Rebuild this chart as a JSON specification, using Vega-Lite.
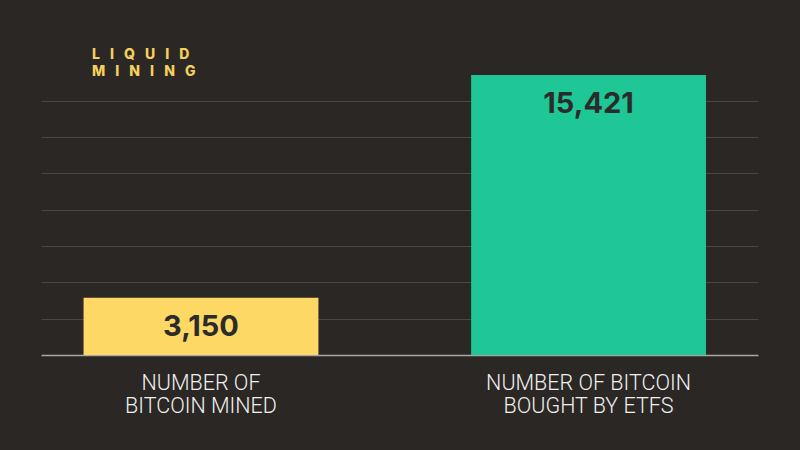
{
  "$schema": "https://vega.github.io/schema/vega-lite/v6.json",
  "width": 717,
  "height": 280,
  "autosize": {"type": "none"},
  "padding": {"left": 41, "top": 75, "right": 42, "bottom": 95},
  "background": "#2a2724",
  "title": {
    "text": ["L\u2002 I\u2002 Q\u2002 U\u2002 I\u2002 D", "M\u2002 I\u2002 N\u2002 I\u2002 N\u2002 G"],
    "anchor": "start",
    "frame": "group",
    "color": "#F6CF5C",
    "font": "Inter",
    "fontSize": 14,
    "fontWeight": 800,
    "lineHeight": 17,
    "dx": 51,
    "offset": 0,
    "dy": 4
  },
  "data": {
    "values": [
      {"label": "NUMBER OF|BITCOIN MINED", "value": 3150},
      {"label": "NUMBER OF BITCOIN|BOUGHT BY ETFS", "value": 15421}
    ]
  },
  "encoding": {
    "x": {
      "field": "label",
      "type": "nominal",
      "sort": null,
      "scale": {"paddingInner": 0.394, "paddingOuter": 0.122, "align": 0.45},
      "axis": {
        "title": null,
        "labelAngle": 0,
        "labelExpr": "split(datum.label, '|')",
        "labelColor": "#f0f0f0",
        "labelFont": "Roboto",
        "labelFontSize": 21.5,
        "labelFontWeight": 300,
        "labelLineHeight": 23,
        "labelPadding": 17,
        "labelLimit": 0,
        "ticks": false,
        "domainColor": "#a8a8a8",
        "domainWidth": 1.5,
        "grid": false
      }
    },
    "y": {
      "field": "value",
      "type": "quantitative",
      "scale": {"domain": [0, 15421], "nice": false},
      "axis": {
        "title": null,
        "labels": false,
        "ticks": false,
        "domain": false,
        "values": [2000, 4000, 6000, 8000, 10000, 12000, 14000],
        "grid": true,
        "gridColor": "#4a4744",
        "gridWidth": 1
      }
    }
  },
  "layer": [
    {
      "mark": {"type": "bar"},
      "encoding": {
        "color": {
          "field": "label",
          "type": "nominal",
          "scale": {
            "domain": ["NUMBER OF|BITCOIN MINED", "NUMBER OF BITCOIN|BOUGHT BY ETFS"],
            "range": ["#FDD865", "#1EC795"]
          },
          "legend": null
        }
      }
    },
    {
      "mark": {
        "type": "text",
        "dy": 29,
        "baseline": "middle",
        "font": "Inter",
        "fontSize": 29,
        "fontWeight": 700,
        "color": "#2b2b2b"
      },
      "encoding": {
        "text": {"field": "value", "type": "quantitative", "format": ","}
      }
    }
  ],
  "config": {
    "view": {"stroke": null}
  }
}
